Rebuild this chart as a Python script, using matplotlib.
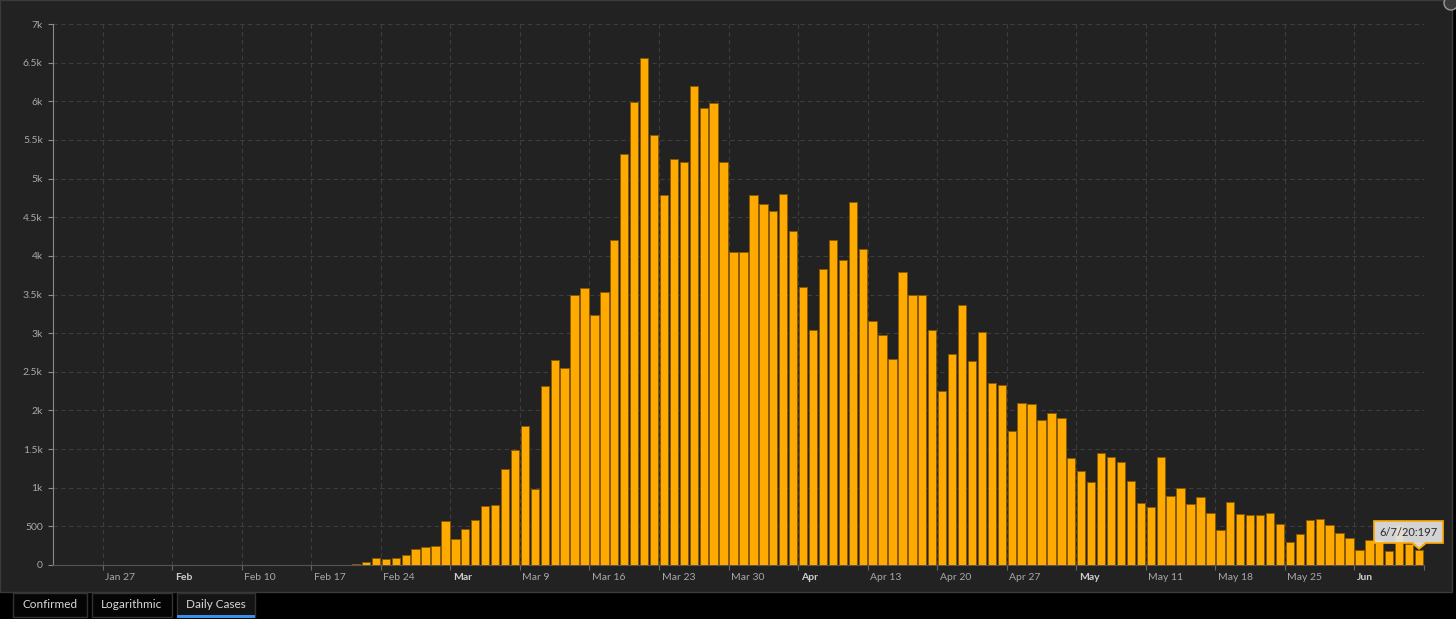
import datetime as dt
import matplotlib.pyplot as plt
import matplotlib.dates as mdates
from matplotlib.patches import Rectangle, Ellipse, Polygon
from matplotlib.lines import Line2D
from matplotlib.transforms import ScaledTranslation, IdentityTransform

plt.rcParams['font.family'] = ['Lato', 'DejaVu Sans']

## daily new cases, Jan 22 .. Jun 7 2020
start = dt.date(2020, 1, 22)
daily_cases = [
    0, 0, 0, 0, 0, 0, 0, 0, 0, 2,                      # Jan 22-31
    0, 0, 0, 0, 0, 0, 1, 0, 0, 0, 0, 0, 0, 0, 0,       # Feb 1-15
    0, 0, 0, 0, 0, 17, 42, 93, 74, 93, 131, 202, 233, 240,   # Feb 16-29
    566, 342, 466, 587, 769, 778, 1247, 1492, 1797, 977,
    2313, 2651, 2547, 3497, 3590, 3233, 3526, 4207, 5322, 5986,
    6557, 5560, 4789, 5249, 5210, 6203, 5909, 5974, 5217, 4050, 4053,   # Mar
    4782, 4668, 4585, 4805, 4316, 3599, 3039, 3836, 4204, 3951,
    4694, 4092, 3153, 2972, 2667, 3786, 3493, 3491, 3047, 2256,
    2729, 3370, 2646, 3021, 2357, 2324, 1739, 2091, 2086, 1872,         # Apr
    1965, 1900, 1389, 1221, 1075, 1444, 1401, 1327, 1083, 802,
    744, 1402, 888, 992, 789, 875, 675, 451, 813, 665,
    642, 652, 669, 531, 300, 397, 584, 593, 516, 416, 355,              # May
    200, 318, 321, 177, 518, 270, 197,                                  # Jun
]
dates = [start + dt.timedelta(days=i) for i in range(len(daily_cases))]

tick_dates = [dt.date(2020, 1, 27) + dt.timedelta(weeks=w) for w in range(20)]
tick_labels = ["Jan 27", "Feb", "Feb 10", "Feb 17", "Feb 24", "Mar", "Mar 9",
               "Mar 16", "Mar 23", "Mar 30", "Apr", "Apr 13", "Apr 20", "Apr 27",
               "May", "May 11", "May 18", "May 25", "Jun", ""]
month_labels = ["Feb", "Mar", "Apr", "May", "Jun"]

y_ticks = [i * 500 for i in range(15)]
y_labels = ["0", "500", "1k", "1.5k", "2k", "2.5k", "3k", "3.5k", "4k",
            "4.5k", "5k", "5.5k", "6k", "6.5k", "7k"]

tabs = ["Confirmed", "Logarithmic", "Daily Cases"]
tooltip_text = "6/7/20:197"

W, H = 1456, 619
fig = plt.figure(figsize=(W / 100, H / 100), dpi=100, facecolor='black')

def fbox(x0, y0, x1, y1):
    # pixel box (top-left origin) -> figure fraction
    return x0 / W, 1 - y1 / H, (x1 - x0) / W, (y1 - y0) / H

# dark panel behind the chart
x, y, w, h = fbox(0, 0, 1452, 592)
fig.patches.append(Rectangle((x, y), w, h, transform=fig.transFigure,
                             fc='#222222', ec='#3a3a3a', lw=1, zorder=-5))
fig.patches.append(Ellipse((1451 / W, 1 - 3 / H), 14 / W, 14 / H,
                           transform=fig.transFigure, fc='#3a3a3a', ec='#9a9a9a',
                           lw=1, zorder=2))

ax = fig.add_axes(fbox(53, 24, 1424, 565))
ax.set_zorder(1)
ax.set_facecolor('#222222')

x_num = mdates.date2num(dates) + 0.5
ax.bar(x_num, daily_cases, width=0.84, color='#FFAA00', edgecolor='#8a5a00',
       linewidth=0.7, zorder=3)

ax.set_xlim(mdates.date2num(start), mdates.date2num(dt.date(2020, 6, 8)))
ax.set_ylim(0, 7000)

ax.set_yticks(y_ticks, y_labels)
ax.set_xticks(mdates.date2num(tick_dates), tick_labels)

ax.grid(True, color='#3d3d3d', linestyle=(0, (4, 3)), linewidth=0.8, zorder=0)
ax.set_axisbelow(True)
for s in ['top', 'right']:
    ax.spines[s].set_visible(False)
ax.spines['left'].set_color('#8a8a8a')
ax.spines['bottom'].set_color('#555555')

ax.tick_params(axis='y', length=3.4, width=0.8, color='#8a8a8a', pad=4,
               labelcolor='#a8a8a8', labelsize=7.5)
ax.tick_params(axis='x', length=3.5, width=0.8, color='#666666', pad=2.5,
               labelcolor='#a8a8a8', labelsize=7.5)

shift = ScaledTranslation(0.025, 0, fig.dpi_scale_trans)
for lab in ax.get_xticklabels():
    lab.set_horizontalalignment('left')
    lab.set_transform(lab.get_transform() + shift)
    if lab.get_text() in month_labels:
        lab.set_fontweight('bold')
        lab.set_color('#cfcfcf')

# hover tooltip on the last bar
ax.annotate(tooltip_text, xy=(x_num[-1], daily_cases[-1]), xycoords='data',
            xytext=(-7.5, 12.6), textcoords='offset points', ha='center',
            va='center', fontsize=8, color='#2a2a2a', zorder=10,
            bbox=dict(boxstyle='square,pad=0.5', fc='#e2e2e2', ec='#FFAA00',
                      lw=1.3, alpha=0.93))
# little pointer under the tooltip box (pixel coords)
px, py = ax.transData.transform((x_num[-1], daily_cases[-1]))
fig.add_artist(Polygon([(px - 6, py + 7.5), (px + 6, py + 7.5), (px, py + 1)],
                       closed=True, transform=IdentityTransform(),
                       fc='#e2e2e2', ec='none', alpha=0.95, zorder=5))
fig.add_artist(Line2D([px - 6, px, px + 6], [py + 6, py + 1, py + 6],
                      transform=IdentityTransform(), color='#FFAA00', lw=1.3,
                      zorder=6))

# tab buttons under the chart
tab_boxes = [(13, 593, 87, 617), (92, 593, 172, 617), (177, 593, 255, 617)]
for name, (x0, y0, x1, y1) in zip(tabs, tab_boxes):
    active = name == "Daily Cases"
    x, y, w, h = fbox(x0, y0, x1, y1)
    fig.patches.append(Rectangle((x, y), w, h, transform=fig.transFigure,
                                 fc='#141414' if active else '#050505',
                                 ec='#333333', lw=1, zorder=2))
    fig.text(x + w / 2, y + h / 2 + 1 / H, name, ha='center', va='center',
             fontsize=8.5, color='#d8d8d8')
    if active:
        x, y, w, h = fbox(x0, 615, x1, 617.5)
        fig.patches.append(Rectangle((x, y), w, h, transform=fig.transFigure,
                                     fc='#3b8fe8', ec='none', zorder=3))

fig.savefig('out.png', dpi=100, facecolor=fig.get_facecolor())
